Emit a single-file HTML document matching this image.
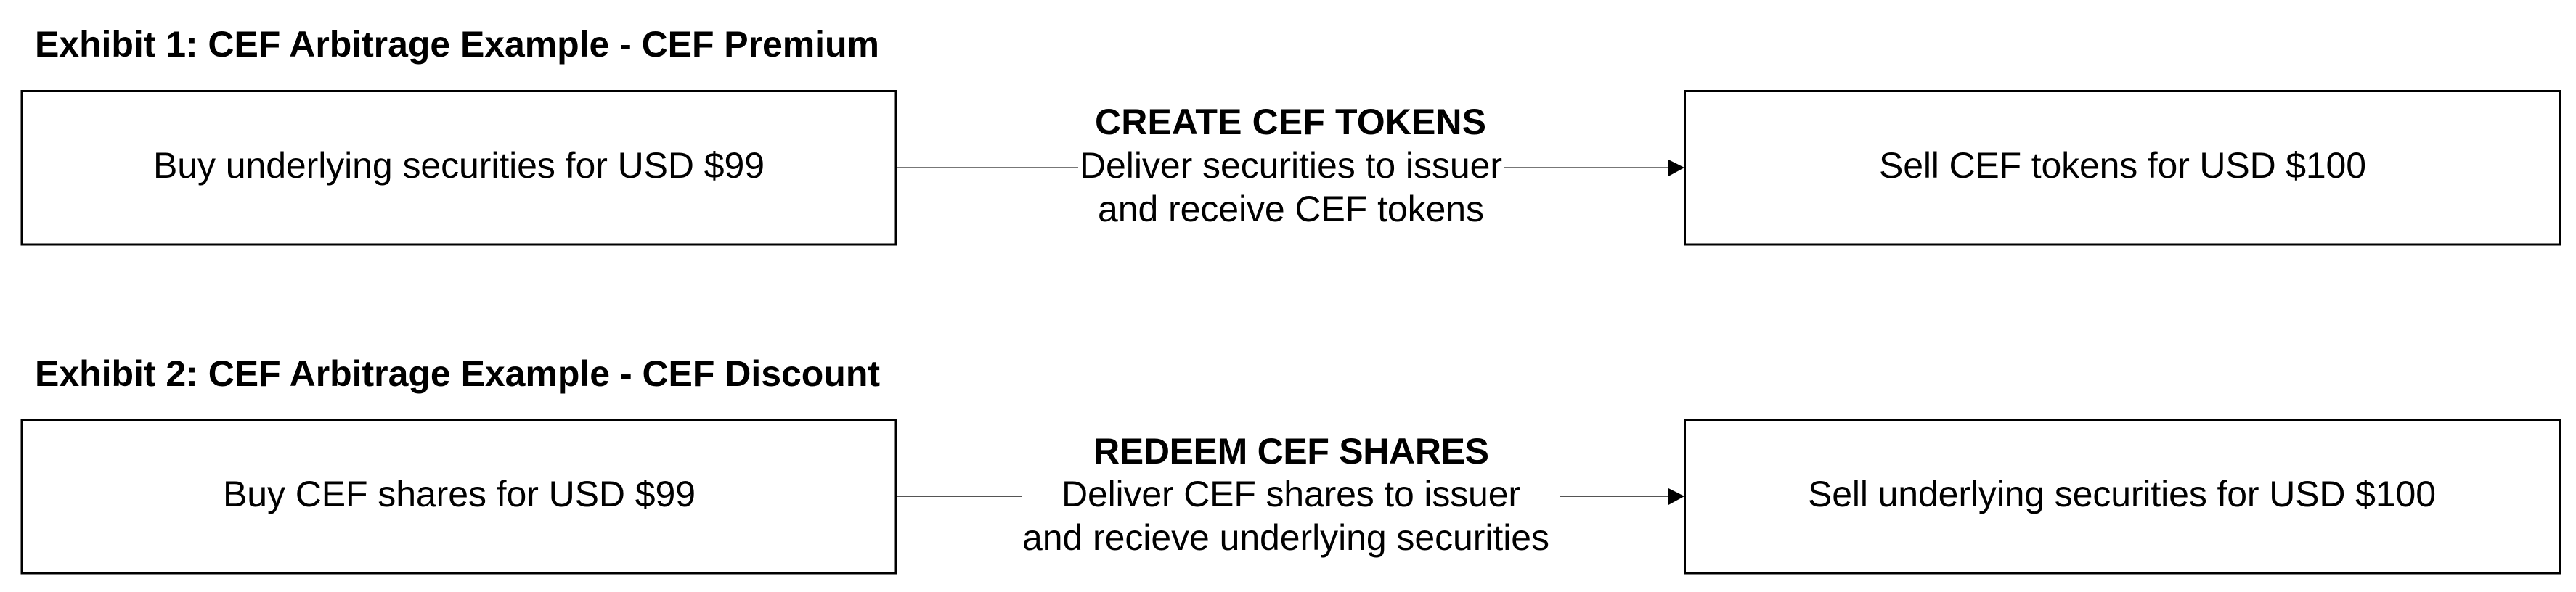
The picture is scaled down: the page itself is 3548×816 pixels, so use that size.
<!DOCTYPE html>
<html lang="en">
<head>
<meta charset="utf-8">
<title>CEF Arbitrage Examples</title>
<style>
html,body{margin:0;padding:0;background:#fff;width:3548px;height:816px;overflow:hidden}
svg{display:block}
text{font-family:"Liberation Sans",Arial,sans-serif;fill:#000}
.h{font-weight:700;font-size:50px}
.t{font-size:50px}
</style>
</head>
<body>
<svg xmlns="http://www.w3.org/2000/svg" width="3548" height="816" viewBox="0 0 3548 816">
<rect width="3548" height="816" fill="#fff"/>

<g>
<text class="h" x="48" y="78" textLength="1163">Exhibit 1: CEF Arbitrage Example - CEF Premium</text>
<rect x="30" y="125.5" width="1204" height="211.5" fill="#fff" stroke="#000" stroke-width="3"/>
<text class="t" x="211" y="245" textLength="842">Buy underlying securities for USD $99</text>
<line x1="1235" y1="231" x2="1485" y2="231" stroke="#777" stroke-width="2"/>
<line x1="2071" y1="231" x2="2300" y2="231" stroke="#777" stroke-width="2"/>
<polygon points="2298,220 2320,231 2298,243" fill="#000"/>
<text class="h" x="1508" y="185" textLength="539">CREATE CEF TOKENS</text>
<text class="t" x="1487" y="245" textLength="582">Deliver securities to issuer</text>
<text class="t" x="1512" y="305" textLength="532">and receive CEF tokens</text>
<rect x="2320.5" y="125.5" width="1205" height="211.5" fill="#fff" stroke="#000" stroke-width="3"/>
<text class="t" x="2588" y="245" textLength="671">Sell CEF tokens for USD $100</text>
</g>

<g>
<text class="h" x="48" y="532" textLength="1164">Exhibit 2: CEF Arbitrage Example - CEF Discount</text>
<rect x="30" y="578.5" width="1204" height="211.5" fill="#fff" stroke="#000" stroke-width="3"/>
<text class="t" x="307" y="698" textLength="651">Buy CEF shares for USD $99</text>
<line x1="1235" y1="684" x2="1407" y2="684" stroke="#555" stroke-width="2"/>
<line x1="2149" y1="684" x2="2300" y2="684" stroke="#555" stroke-width="2"/>
<polygon points="2298,673 2320,684 2298,696" fill="#000"/>
<text class="h" x="1506" y="639" textLength="545">REDEEM CEF SHARES</text>
<text class="t" x="1462" y="698" textLength="632">Deliver CEF shares to issuer</text>
<text class="t" x="1408" y="758" textLength="726">and recieve underlying securities</text>
<rect x="2320.5" y="578.5" width="1205" height="211.5" fill="#fff" stroke="#000" stroke-width="3"/>
<text class="t" x="2490" y="698" textLength="865">Sell underlying securities for USD $100</text>
</g>
</svg>
</body>
</html>
